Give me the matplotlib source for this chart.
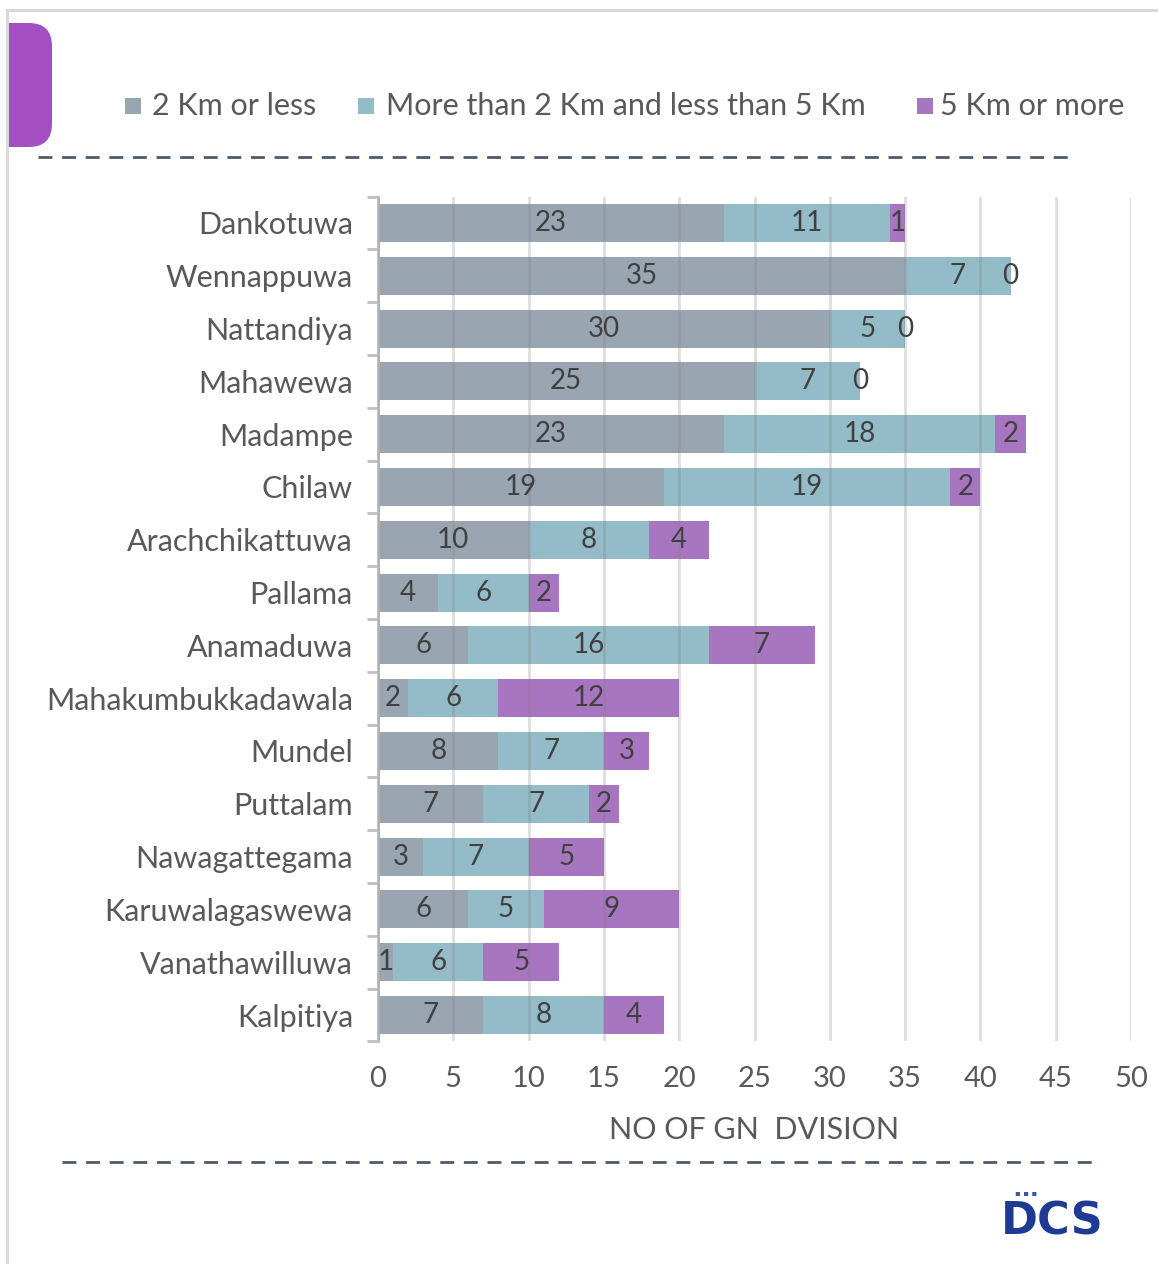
import matplotlib
matplotlib.use("Agg")
import matplotlib.pyplot as plt
from matplotlib.patches import Rectangle, FancyBboxPatch
from matplotlib.lines import Line2D
import numpy as np

plt.rcParams['font.family'] = ['Lato', 'DejaVu Sans']

divisions = ["Dankotuwa", "Wennappuwa", "Nattandiya", "Mahawewa", "Madampe", "Chilaw",
             "Arachchikattuwa", "Pallama", "Anamaduwa", "Mahakumbukkadawala", "Mundel",
             "Puttalam", "Nawagattegama", "Karuwalagaswewa", "Vanathawilluwa", "Kalpitiya"]
two_km_or_less = [23, 35, 30, 25, 23, 19, 10, 4, 6, 2, 8, 7, 3, 6, 1, 7]
two_to_five_km = [11, 7, 5, 7, 18, 19, 8, 6, 16, 6, 7, 7, 7, 5, 6, 8]
five_km_or_more = [1, 0, 0, 0, 2, 2, 4, 2, 7, 12, 3, 2, 5, 9, 5, 4]
series_names = ["2 Km or less", "More than 2 Km and less than 5 Km", "5 Km or more"]
x_ticks = [0, 5, 10, 15, 20, 25, 30, 35, 40, 45, 50]

colors = ["#9AA5B2", "#94BBC8", "#A875C0"]
text_dark = "#404040"
label_grey = "#595959"
W, H = 1158, 1264

fig = plt.figure(figsize=(W / 100, H / 100), dpi=100)
fig.patch.set_facecolor("white")

# frame + purple tab
fig.add_artist(FancyBboxPatch((-30 / W, 1 - 147 / H), 82 / W, 124 / H,
                              boxstyle="round,pad=0,rounding_size=0.02",
                              transform=fig.transFigure, facecolor="#A34FC1",
                              edgecolor="none", mutation_aspect=W / H))
fig.add_artist(Rectangle((0, 0), 7 / W, 1, transform=fig.transFigure,
                         facecolor="white", edgecolor="none"))
fig.add_artist(Line2D([7 / W, 1], [1 - 10 / H, 1 - 10 / H], transform=fig.transFigure,
                      color="#D9D9D9", lw=2.2))
fig.add_artist(Line2D([7 / W, 7 / W], [0, 1 - 10 / H], transform=fig.transFigure,
                      color="#D9D9D9", lw=2.2))

# legend drawn by hand
leg_sq = [125, 358, 917]
leg_tx = [152, 386, 940]
for i in range(3):
    fig.add_artist(Rectangle((leg_sq[i] / W, 1 - 114 / H), 16 / W, 16 / H,
                             transform=fig.transFigure, facecolor=colors[i], edgecolor="none"))
    fig.text(leg_tx[i] / W, 1 - 106 / H, series_names[i], fontsize=22, color=label_grey,
             va="center", ha="left")

# dashed separators
fig.add_artist(Line2D([38 / W, 1075 / W], [1 - 157 / H, 1 - 157 / H], transform=fig.transFigure,
                      color="#4F5B6B", lw=2, dashes=(5, 3.5)))
fig.add_artist(Line2D([62 / W, 1098 / W], [1 - 1162 / H, 1 - 1162 / H], transform=fig.transFigure,
                      color="#4F5B6B", lw=2, dashes=(5, 3.5)))

ax = fig.add_axes([378 / W, 1 - 1041.4 / H, 753 / W, 844.8 / H])
y = np.arange(len(divisions))
left = np.zeros(len(divisions))
for vals, c in zip([two_km_or_less, two_to_five_km, five_km_or_more], colors):
    bars = ax.barh(y, vals, left=left, height=0.72, color=c, zorder=2)
    ax.bar_label(bars, labels=[str(v) for v in vals], label_type="center",
                 fontsize=20, color=text_dark, zorder=4)
    left += np.array(vals)

ax.set_xlim(0, 50)
ax.set_ylim(len(divisions) - 0.5, -0.5)
ax.set_xticks(x_ticks)
ax.set_xticklabels([str(t) for t in x_ticks], fontsize=21, color=label_grey)
ax.tick_params(axis="x", length=0, pad=18)
ax.set_yticks(y)
ax.set_yticklabels(divisions, fontsize=22, color=label_grey)
ax.set_yticks(np.arange(-0.5, len(divisions), 1), minor=True)
ax.tick_params(axis="y", which="major", length=0, pad=18)
ax.tick_params(axis="y", which="minor", length=8, width=2, color="#BFBFBF")
ax.grid(axis="x", color="#7F7F7F", lw=2, alpha=0.25, zorder=3)
ax.set_axisbelow(False)
for s in ["top", "right", "bottom"]:
    ax.spines[s].set_visible(False)
ax.spines["left"].set_color("#BFBFBF")
ax.spines["left"].set_linewidth(2)
ax.set_xlabel("NO OF GN  DVISION", fontsize=22, color=label_grey, labelpad=17)

# DCS mark
fig.text(1052 / W, 1 - 1222 / H, "DCS", fontsize=32, fontweight="bold", color="#1F3A93",
         ha="center", va="center", family="DejaVu Sans")
fig.text(1026 / W, 1 - 1193 / H, "▪ ▪ ▪", fontsize=6, color="#3A55A8",
         ha="center", va="center", family="DejaVu Sans")

fig.savefig("out.png", dpi=100)
